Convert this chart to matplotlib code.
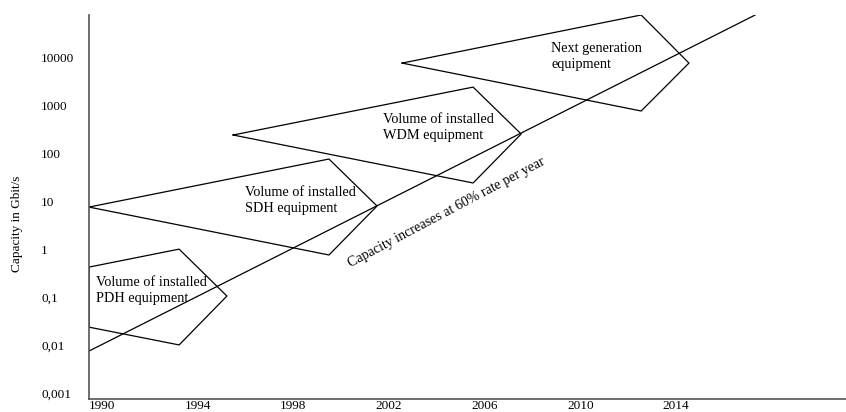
import numpy as np
import matplotlib
matplotlib.use("Agg")
import matplotlib.pyplot as plt

plt.rcParams['font.family'] = ['Liberation Serif', 'DejaVu Serif']

# --- data (years, Gbit/s) ---
trend_years = [1990.0, 2017.87]
trend_caps = [0.0076, 78700]

pdh_years = [1990.0, 1993.77, 1995.77, 1993.77, 1990.0]
pdh_caps = [0.43, 1.02, 0.107, 0.0102, 0.024]

sdh_years = [1990.0, 2000.04, 2002.05, 2000.04]
sdh_caps = [7.7, 77.5, 8.1, 0.77]

wdm_years = [1996.03, 2006.07, 2008.08, 2006.07]
wdm_caps = [246, 2460, 258, 24.5]

ng_years = [2003.10, 2013.10, 2015.10, 2013.10]
ng_caps = [7800, 78700, 7800, 780]

x_ticks = [1990, 1994, 1998, 2002, 2006, 2010, 2014]
y_ticks = [0.001, 0.01, 0.1, 1, 10, 100, 1000, 10000]
y_labels = ['0,001', '0,01', '0,1', '1', '10', '100', '1000', '10000']

fig = plt.figure(figsize=(8.46, 4.12), dpi=100)
ax = fig.add_axes([89 / 846, 13 / 412, 757 / 846, 384 / 412])
ax.set_yscale('log')
ax.set_xlim(1990, 2021.67)
ax.set_ylim(10 ** -3.12, 10 ** 4.896)

lw = 0.9
ax.plot(trend_years, trend_caps, color='black', lw=lw)
for xs, ys in [(pdh_years, pdh_caps), (sdh_years, sdh_caps),
               (wdm_years, wdm_caps), (ng_years, ng_caps)]:
    ax.plot(xs + xs[:1], ys + ys[:1], color='black', lw=lw)

fs = 9.5
afs = 10.3
ax.text(1990.29, 0.143, "Volume of installed\nPDH equipment", fontsize=afs,
        va='center', ha='left', linespacing=1.3)
ax.text(1996.53, 10.8, "Volume of installed\nSDH equipment", fontsize=afs,
        va='center', ha='left', linespacing=1.3)
ax.text(2002.30, 352, "Volume of installed\nWDM equipment", fontsize=afs,
        va='center', ha='left', linespacing=1.3)
ax.text(2009.33, 10960, "Next generation\nequipment", fontsize=afs,
        va='center', ha='left', linespacing=1.3)
ax.text(2004.94, 5.78, "Capacity increases at 60% rate per year", fontsize=10.1,
        va='center', ha='center', rotation=27.9, rotation_mode='anchor')

ax.set_xticks(x_ticks)
ax.set_xticklabels([str(y) for y in x_ticks], ha='left')
ax.set_yticks(y_ticks)
ax.set_yticklabels(y_labels, ha='left')
ax.yaxis.set_minor_locator(matplotlib.ticker.NullLocator())
ax.tick_params(axis='both', length=0, labelsize=fs)
ax.tick_params(axis='y', pad=34.5)
ax.tick_params(axis='x', pad=1)

ax.set_ylabel("Capacity in Gbit/s", fontsize=fs)
ax.yaxis.set_label_coords(-(89 - 23) / 757, (399 - 224) / 384)

for s in ['top', 'right']:
    ax.spines[s].set_visible(False)
for s in ['left', 'bottom']:
    ax.spines[s].set_color('#555555')
    ax.spines[s].set_linewidth(1.2)

fig.savefig("out.png", dpi=100)
